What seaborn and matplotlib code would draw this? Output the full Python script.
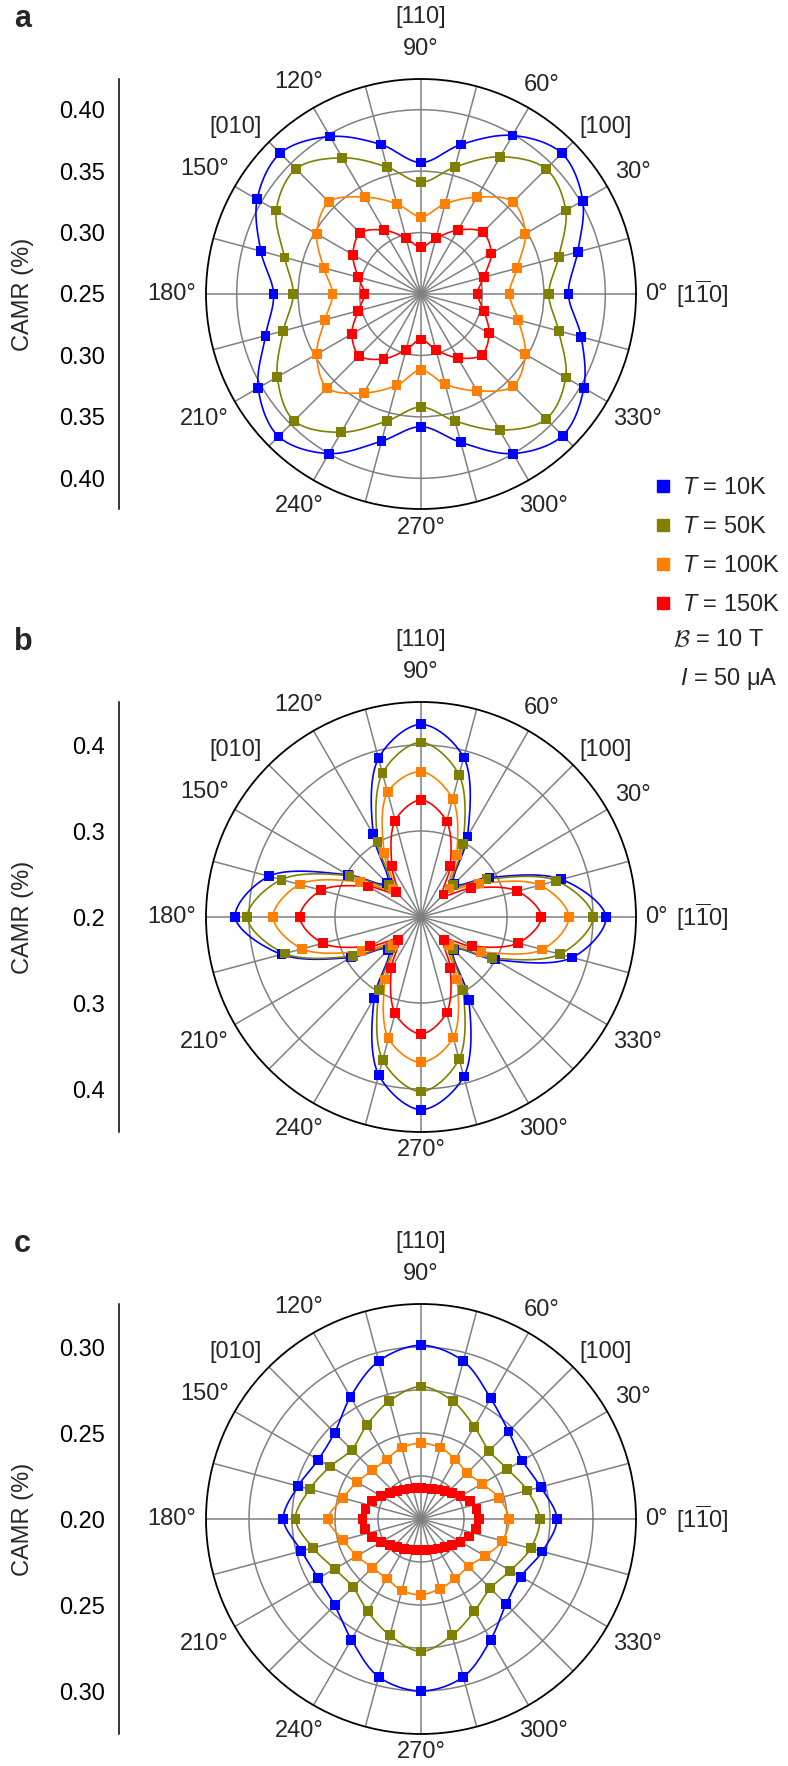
import numpy as np
import pandas as pd
import matplotlib
matplotlib.use("Agg")
import matplotlib.pyplot as plt
import seaborn as sns
from matplotlib.ticker import MultipleLocator, FuncFormatter
from matplotlib.lines import Line2D

# ---- data (CAMR in %) ----
angles = [0, 15, 30, 45, 60, 75, 90, 105, 120, 135, 150, 165,
          180, 195, 210, 225, 240, 255, 270, 285, 300, 315, 330, 345]
angles_fine = [0, 10, 20, 30, 40, 50, 60, 70, 80, 90, 100, 110,
               120, 130, 140, 150, 160, 170, 180, 190, 200, 210, 220, 230,
               240, 250, 260, 270, 280, 290, 300, 310, 320, 330, 340, 350]

temps = ["10K", "50K", "100K", "150K"]
colors = ["#0000ff", "#808000", "#ff8000", "#ff0000"]

# panel a
a_10K = [0.370, 0.382, 0.402, 0.412, 0.399, 0.376, 0.357, 0.376, 0.398, 0.412, 0.404, 0.385,
         0.370, 0.381, 0.403, 0.414, 0.400, 0.374, 0.358, 0.375, 0.400, 0.413, 0.403, 0.385]
a_50K = [0.354, 0.366, 0.386, 0.394, 0.379, 0.357, 0.341, 0.357, 0.378, 0.394, 0.386, 0.365,
         0.354, 0.366, 0.385, 0.396, 0.380, 0.357, 0.342, 0.357, 0.378, 0.394, 0.386, 0.366]
a_100K = [0.322, 0.331, 0.348, 0.356, 0.341, 0.326, 0.313, 0.326, 0.341, 0.356, 0.348, 0.332,
          0.322, 0.331, 0.348, 0.358, 0.343, 0.327, 0.312, 0.326, 0.341, 0.356, 0.348, 0.332]
a_150K = [0.296, 0.303, 0.316, 0.321, 0.310, 0.297, 0.288, 0.297, 0.310, 0.320, 0.314, 0.303,
          0.296, 0.303, 0.315, 0.321, 0.311, 0.297, 0.287, 0.297, 0.310, 0.320, 0.314, 0.303]

# panel b
b_10K = [0.415, 0.369, 0.292, 0.255, 0.308, 0.392, 0.424, 0.391, 0.311, 0.256, 0.298, 0.383,
         0.416, 0.368, 0.294, 0.254, 0.309, 0.390, 0.424, 0.392, 0.311, 0.254, 0.299, 0.382]
b_50K = [0.400, 0.363, 0.288, 0.252, 0.298, 0.371, 0.403, 0.373, 0.301, 0.252, 0.296, 0.368,
         0.402, 0.364, 0.291, 0.251, 0.298, 0.372, 0.403, 0.371, 0.298, 0.252, 0.295, 0.367]
b_100K = [0.372, 0.343, 0.278, 0.247, 0.283, 0.342, 0.369, 0.350, 0.286, 0.246, 0.282, 0.346,
          0.372, 0.343, 0.280, 0.246, 0.284, 0.346, 0.369, 0.345, 0.284, 0.246, 0.281, 0.346]
b_150K = [0.340, 0.316, 0.267, 0.237, 0.268, 0.315, 0.336, 0.316, 0.268, 0.241, 0.271, 0.320,
          0.341, 0.318, 0.268, 0.238, 0.269, 0.316, 0.336, 0.315, 0.268, 0.238, 0.268, 0.317]

# panel c
c_10K = [0.279, 0.272, 0.268, 0.272, 0.281, 0.295, 0.301, 0.295, 0.282, 0.271, 0.269, 0.274,
         0.280, 0.272, 0.269, 0.271, 0.281, 0.295, 0.300, 0.295, 0.281, 0.270, 0.267, 0.273]
c_50K = [0.269, 0.264, 0.258, 0.256, 0.262, 0.271, 0.277, 0.271, 0.263, 0.257, 0.261, 0.267,
         0.273, 0.265, 0.258, 0.256, 0.262, 0.270, 0.277, 0.270, 0.262, 0.257, 0.260, 0.266]
c_100K = [0.251, 0.247, 0.241, 0.238, 0.240, 0.243, 0.244, 0.243, 0.240, 0.240, 0.243, 0.247,
          0.254, 0.247, 0.243, 0.240, 0.240, 0.243, 0.244, 0.242, 0.240, 0.239, 0.243, 0.249]
c_150K = [0.2337, 0.2328, 0.2302, 0.2265, 0.2235, 0.2212, 0.2198, 0.2186, 0.2180, 0.2180, 0.2183, 0.2189,
          0.2198, 0.2215, 0.2238, 0.2267, 0.2302, 0.2328, 0.2340, 0.2331, 0.2305, 0.2267, 0.2238, 0.2215,
          0.2200, 0.2189, 0.2183, 0.2180, 0.2183, 0.2189, 0.2198, 0.2212, 0.2235, 0.2265, 0.2299, 0.2326]

# ---- style ----
sns.set_theme(style="white")
plt.rcParams["font.family"] = ["Liberation Sans", "DejaVu Sans"]
plt.rcParams["mathtext.fontset"] = "custom"
plt.rcParams["mathtext.rm"] = "Liberation Sans"
plt.rcParams["mathtext.it"] = "Liberation Sans:italic"
plt.rcParams["mathtext.bf"] = "Liberation Sans:bold"

W, H = 788, 1766
RAD = 215
FS = 17
fig = plt.figure(figsize=(W / 100, H / 100), dpi=100)
fig.patch.set_facecolor("white")


def closed_curve(theta_deg, vals, r0, n=24):
    # centripetal catmull-rom through the points, in screen-like coordinates
    t = np.deg2rad(np.asarray(theta_deg, float))
    rr = np.asarray(vals, float) - r0
    P = np.column_stack([rr * np.cos(t), rr * np.sin(t)])
    m = len(P)
    u = np.linspace(0, 1, n, endpoint=False)[:, None]
    out = []
    for i in range(m):
        p0, p1, p2, p3 = P[i - 1], P[i], P[(i + 1) % m], P[(i + 2) % m]
        t0 = 0.0
        t1 = t0 + np.linalg.norm(p1 - p0) ** 0.5
        t2 = t1 + np.linalg.norm(p2 - p1) ** 0.5
        t3 = t2 + np.linalg.norm(p3 - p2) ** 0.5
        tt = t1 + u * (t2 - t1)
        A1 = (t1 - tt) / (t1 - t0) * p0 + (tt - t0) / (t1 - t0) * p1
        A2 = (t2 - tt) / (t2 - t1) * p1 + (tt - t1) / (t2 - t1) * p2
        A3 = (t3 - tt) / (t3 - t2) * p2 + (tt - t2) / (t3 - t2) * p3
        B1 = (t2 - tt) / (t2 - t0) * A1 + (tt - t0) / (t2 - t0) * A2
        B2 = (t3 - tt) / (t3 - t1) * A2 + (tt - t1) / (t3 - t1) * A3
        out.append((t2 - tt) / (t2 - t1) * B1 + (tt - t1) / (t2 - t1) * B2)
    S = np.vstack(out + [P[:1]])
    th = np.unwrap(np.arctan2(S[:, 1], S[:, 0]))
    return th, np.hypot(S[:, 0], S[:, 1]) + r0


def angle_text(ax, deg, text, d=None, gap=10):
    a = np.deg2rad(deg)
    if d is None:
        w = 13.5 * len(text.replace("°", "")) + 8
        d = RAD + gap + abs(np.cos(a)) * w / 2 + abs(np.sin(a)) * 8.5
    f = d / (2 * RAD)
    ax.text(0.5 + f * np.cos(a), 0.5 + f * np.sin(a), text, transform=ax.transAxes,
            ha="center", va="center", fontsize=FS, clip_on=False)


def panel(cy, letter, series, r0, rmax, rgrid, major, minor, fmt):
    # polar part
    ax = fig.add_axes([(421 - RAD) / W, 1 - (cy + RAD) / H, 2 * RAD / W, 2 * RAD / H],
                      projection="polar")
    ax.set_axisbelow(True)
    for (ang, vals), col, temp in zip(series, colors, temps):
        th, rr = closed_curve(ang, vals, r0)
        ax.plot(th, rr, color=col, lw=1.2, zorder=2)
    df = pd.concat([pd.DataFrame({"theta": np.deg2rad(ang), "camr": vals, "T": temp})
                    for (ang, vals), temp in zip(series, temps)])
    sns.scatterplot(data=df, x="theta", y="camr", hue="T", hue_order=temps,
                    palette=dict(zip(temps, colors)), marker="s", s=50, linewidth=0,
                    legend=False, ax=ax, zorder=3)
    ax.set_xlabel("")
    ax.set_ylabel("")
    ax.set_ylim(r0, rmax)
    ax.set_xticks(np.deg2rad(angles))
    ax.set_xticklabels([])
    ax.set_yticks(rgrid)
    ax.set_yticklabels([])
    ax.grid(True, color="#808080", lw=1.1)
    ax.spines["polar"].set_color("black")
    ax.spines["polar"].set_linewidth(1.3)
    ax.tick_params(axis="x", direction="in", length=5.5, width=1.1, color="black")
    ax.tick_params(axis="y", length=0)
    ax.set_facecolor("white")

    for deg in range(30, 360, 30):
        if deg == 90:
            angle_text(ax, 90, "90°", d=245)
        else:
            angle_text(ax, deg, f"{deg}°")
    angle_text(ax, 0, "0°")
    angle_text(ax, 0, r"[1$\overline{\mathrm{1}}$0]", d=281)
    angle_text(ax, 90, "[110]", d=277)
    angle_text(ax, 138, "[010]", d=249)
    angle_text(ax, 42, "[100]", d=249)

    # linear CAMR scale on the left
    span = rmax - r0
    axl = fig.add_axes([119 / W, 1 - (cy + RAD) / H, 0.001, 2 * RAD / H])
    axl.set_ylim(-span, span)
    axl.patch.set_alpha(0)
    for s in ["top", "right", "bottom"]:
        axl.spines[s].set_visible(False)
    axl.spines["left"].set_color("black")
    axl.spines["left"].set_linewidth(1.1)
    axl.set_xticks([])
    axl.yaxis.set_major_locator(MultipleLocator(major))
    axl.yaxis.set_minor_locator(MultipleLocator(minor))
    axl.yaxis.set_major_formatter(FuncFormatter(lambda v, p: fmt.format(r0 + abs(v))))
    axl.tick_params(axis="y", which="major", direction="out", length=6, width=1.1,
                    color="black", labelsize=FS, pad=4, labelcolor="black")
    axl.tick_params(axis="y", which="minor", direction="out", length=3.5, width=1.1,
                    color="black")
    axl.grid(False)

    fig.text(23 / W, 1 - cy / H, "CAMR (%)", rotation=90, ha="center", va="center",
             fontsize=FS)
    fig.text(14 / W, 1 - (cy - RAD - 52) / H, letter, fontsize=22, fontweight="bold",
             va="baseline", ha="left")
    return ax


ax_a = panel(294, "a",
             [(angles, a_10K), (angles, a_50K), (angles, a_100K), (angles, a_150K)],
             0.25, 0.425, [0.30, 0.35, 0.40], 0.05, 0.025, "{:.2f}")
ax_b = panel(917, "b",
             [(angles, b_10K), (angles, b_50K), (angles, b_100K), (angles, b_150K)],
             0.20, 0.45, [0.30, 0.40], 0.1, 0.05, "{:.1f}")
ax_c = panel(1519, "c",
             [(angles, c_10K), (angles, c_50K), (angles, c_100K), (angles_fine, c_150K)],
             0.20, 0.325, [0.225, 0.25, 0.275, 0.30], 0.05, 0.025, "{:.2f}")

# legend between panels a and b
handles = [Line2D([], [], marker="s", ls="none", color=c, markersize=9) for c in colors]
labels = [rf"$T$ = {t}" for t in temps]
ax_a.legend(handles, labels, loc="upper left", bbox_to_anchor=(656 / W, 1 - 477 / H),
            bbox_transform=fig.transFigure, frameon=False, fontsize=FS,
            handlelength=0.6, handletextpad=0.5, labelspacing=0.72,
            borderpad=0, borderaxespad=0)
fig.text(673 / W, 1 - 640 / H, r"$\mathcal{B}$ = 10 T", math_fontfamily="cm",
         fontsize=FS, ha="left", va="center")
fig.text(680 / W, 1 - 679 / H, r"$I$ = 50 μA", fontsize=FS, ha="left", va="center")

fig.savefig("out.png", dpi=100, facecolor="white")
